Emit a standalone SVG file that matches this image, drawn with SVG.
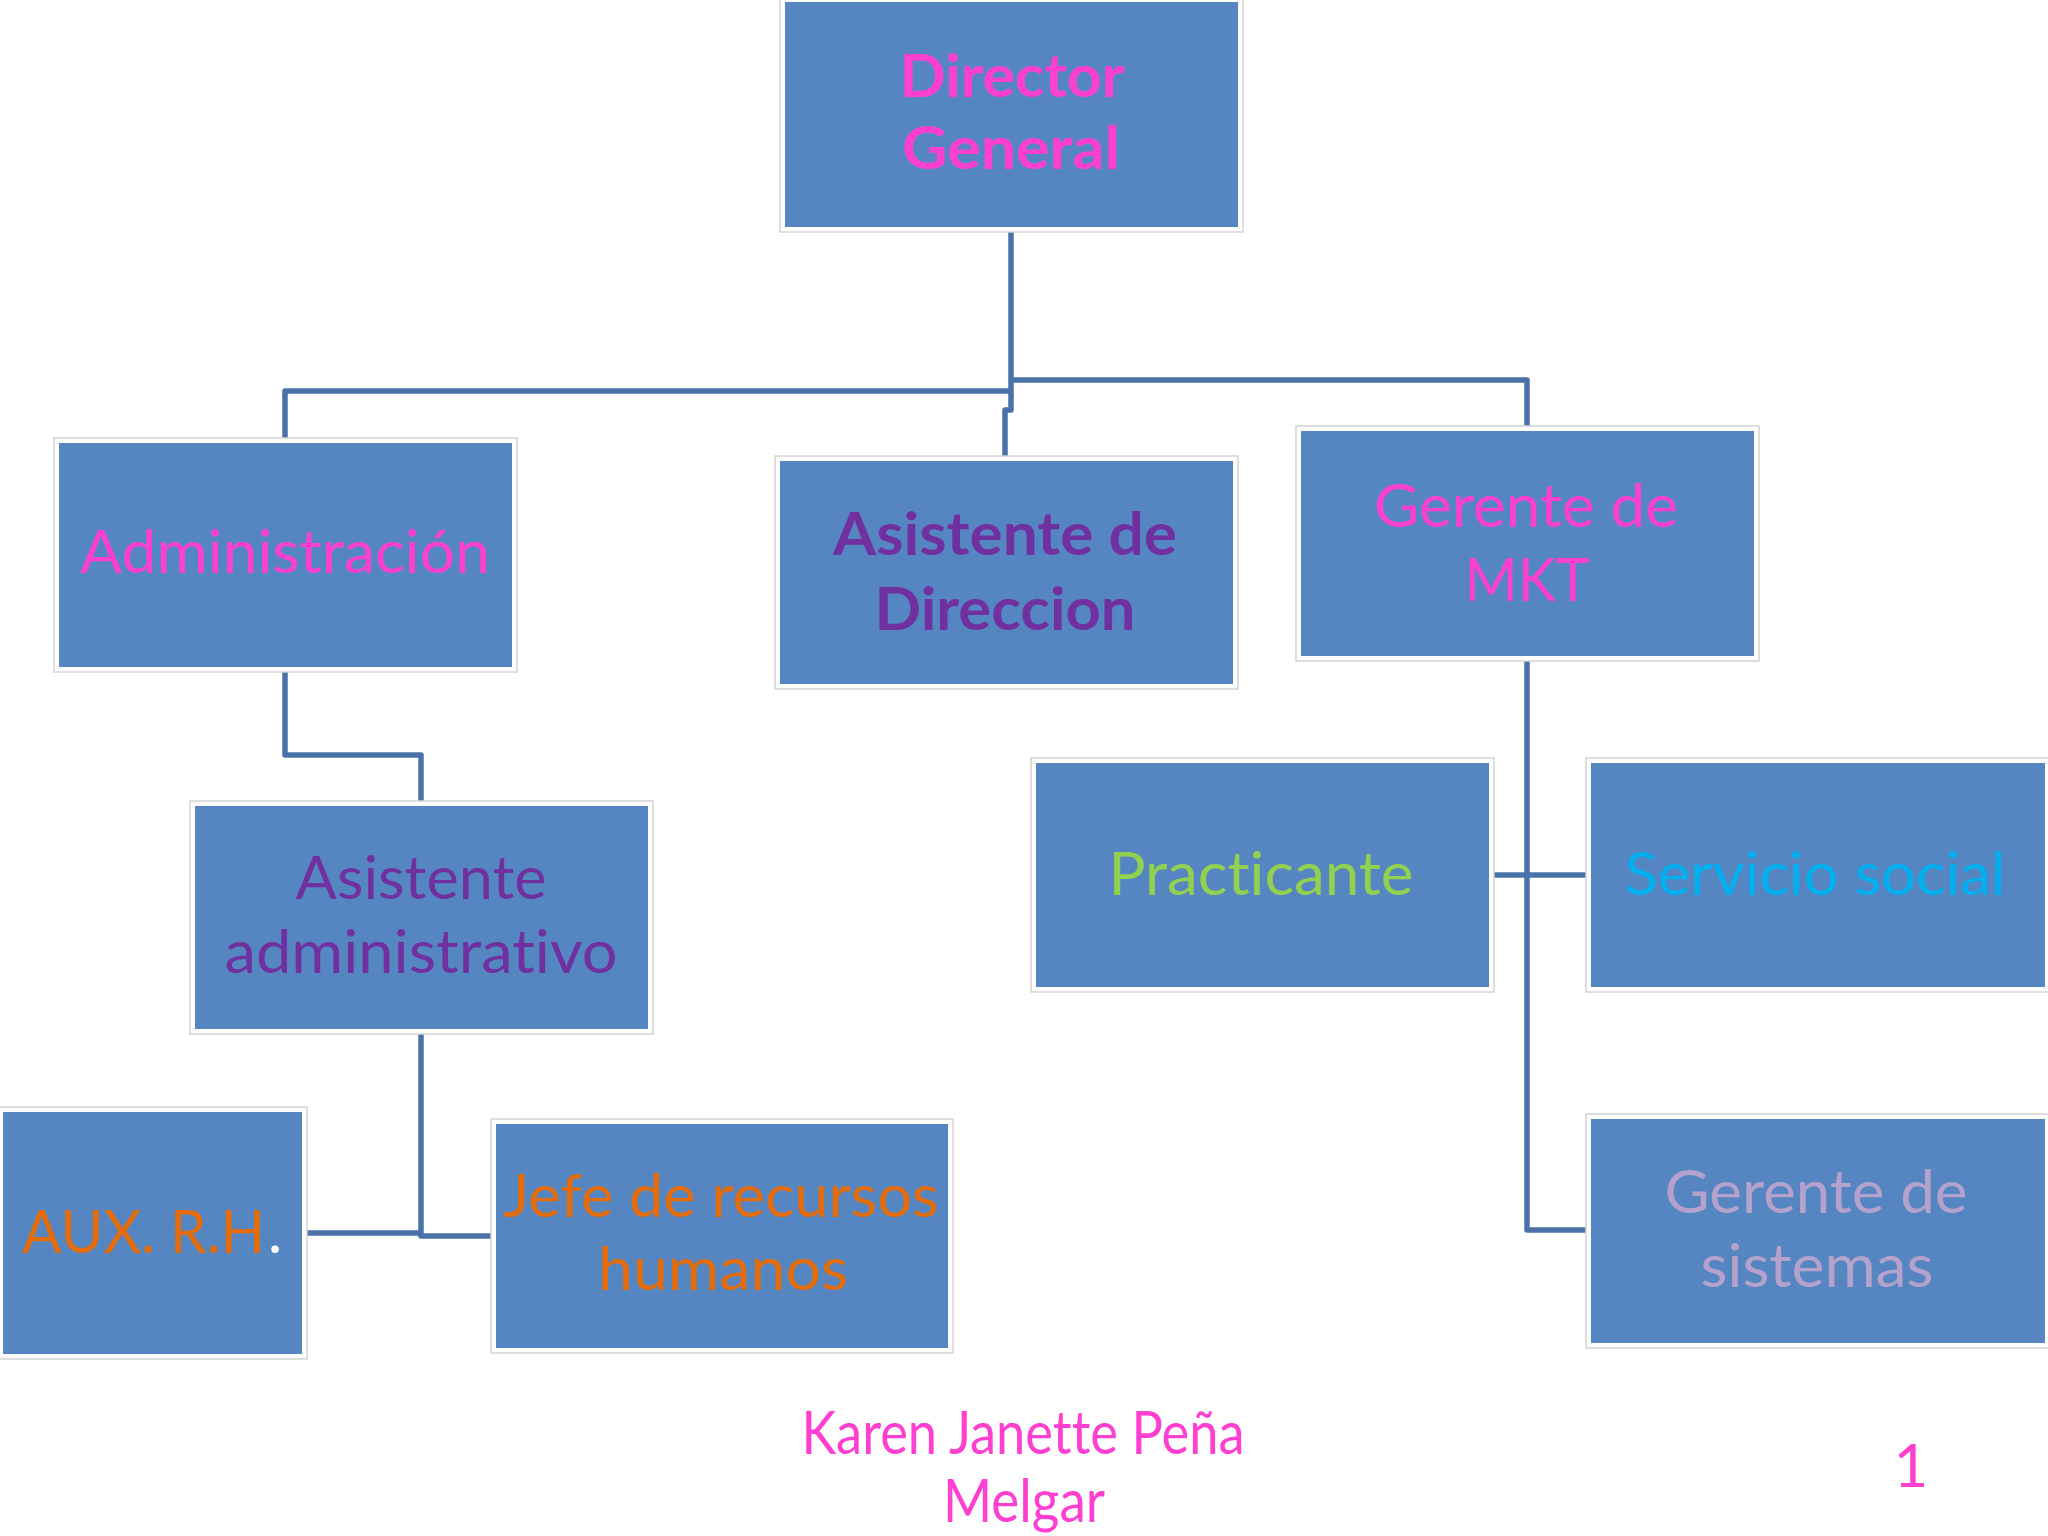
<svg xmlns="http://www.w3.org/2000/svg" width="2048" height="1536" viewBox="0 0 2048 1536">
<style>
.frame{fill:#ffffff;stroke:#d4d4d4;stroke-width:1.5}
.box{fill:#5686c1}
.conn{fill:none;stroke:#4a72a8;stroke-width:5.5;stroke-linejoin:round}
text{font-family:Lato,"Open Sans","Liberation Sans",sans-serif;text-anchor:middle;font-size:60px;font-variant-ligatures:none;font-feature-settings:"liga" 0,"clig" 0}
.b{font-weight:bold}
.pink{fill:#ff3fd0}
.purple{fill:#7030a0}
.green{fill:#92d050}
.cyan{fill:#00b0f0}
.orange{fill:#e46c0a}
.lav{fill:#b4a2cc}
</style>
<rect width="2048" height="1536" fill="#ffffff"/>
<g id="connectors">
<path class="conn" d="M1011 232 V410 H1005 V456"/>
<path class="conn" d="M1011 391 H285 V438"/>
<path class="conn" d="M1011 380 H1527 V426"/>
<path class="conn" d="M285 672 V755 H421 V801"/>
<path class="conn" d="M421 1034 V1236 H491"/>
<path class="conn" d="M307 1233 H421"/>
<path class="conn" d="M1527 661 V1230 H1586"/>
<path class="conn" d="M1494 875 H1586"/>
</g>
<g id="director">
<rect class="frame" x="780" y="-3" width="463" height="235"/>
<rect class="box" x="785" y="2" width="453" height="225"/>
<text class="b pink" x="1012" y="97" font-size="62" textLength="225" lengthAdjust="spacingAndGlyphs">Director</text>
<text class="b pink" x="1011" y="169" font-size="62" textLength="218" lengthAdjust="spacingAndGlyphs">General</text>
</g>
<g id="administracion">
<rect class="frame" x="54" y="438" width="463" height="234"/>
<rect class="box" x="59" y="443" width="453" height="224"/>
<text class="pink" x="285" y="573" font-size="62" textLength="410" lengthAdjust="spacingAndGlyphs">Administración</text>
</g>
<g id="asistente-direccion">
<rect class="frame" x="775" y="456" width="463" height="233"/>
<rect class="box" x="780" y="461" width="453" height="223"/>
<text class="b purple" x="1005" y="555" textLength="344" lengthAdjust="spacingAndGlyphs">Asistente de</text>
<text class="b purple" x="1005" y="630" textLength="261" lengthAdjust="spacingAndGlyphs">Direccion</text>
</g>
<g id="gerente-mkt">
<rect class="frame" x="1296" y="426" width="463" height="235"/>
<rect class="box" x="1301" y="431" width="453" height="225"/>
<text class="pink" x="1526" y="527" textLength="304" lengthAdjust="spacingAndGlyphs">Gerente de</text>
<text class="pink" x="1527" y="601" textLength="125" lengthAdjust="spacingAndGlyphs">MKT</text>
</g>
<g id="asistente-administrativo">
<rect class="frame" x="190" y="801" width="463" height="233"/>
<rect class="box" x="195" y="806" width="453" height="223"/>
<text class="purple" x="421" y="899" textLength="251" lengthAdjust="spacingAndGlyphs">Asistente</text>
<text class="purple" x="421" y="973" textLength="393" lengthAdjust="spacingAndGlyphs">administrativo</text>
</g>
<g id="practicante">
<rect class="frame" x="1031" y="758" width="463" height="234"/>
<rect class="box" x="1036" y="763" width="453" height="224"/>
<text class="green" x="1261" y="895" textLength="305" lengthAdjust="spacingAndGlyphs">Practicante</text>
</g>
<g id="servicio-social">
<rect class="frame" x="1586" y="758" width="464" height="234"/>
<rect class="box" x="1591" y="763" width="454" height="224"/>
<text class="cyan" x="1815" y="895" textLength="381" lengthAdjust="spacingAndGlyphs">Servicio social</text>
</g>
<g id="aux-rh">
<rect class="frame" x="-2" y="1107" width="309" height="252"/>
<rect class="box" x="3" y="1112" width="299" height="242"/>
<text class="orange" x="22" y="1253" style="text-anchor:start" textLength="243" lengthAdjust="spacingAndGlyphs">AUX. R.H</text>
<text x="268" y="1253" style="text-anchor:start" fill="#ffffff">.</text>
</g>
<g id="jefe-rh">
<rect class="frame" x="491" y="1119" width="462" height="234"/>
<rect class="box" x="496" y="1124" width="452" height="224"/>
<text class="orange" x="721" y="1217" textLength="435" lengthAdjust="spacingAndGlyphs">Jefe de recursos</text>
<text class="orange" x="723" y="1290" textLength="250" lengthAdjust="spacingAndGlyphs">humanos</text>
</g>
<g id="gerente-sistemas">
<rect class="frame" x="1586" y="1114" width="464" height="234"/>
<rect class="box" x="1591" y="1119" width="454" height="224"/>
<text class="lav" x="1816" y="1213" textLength="303" lengthAdjust="spacingAndGlyphs">Gerente de</text>
<text class="lav" x="1817" y="1287" textLength="233" lengthAdjust="spacingAndGlyphs">sistemas</text>
</g>
<g id="footer">
<text class="pink" x="1023" y="1454" font-size="54" textLength="443" lengthAdjust="spacingAndGlyphs">Karen Janette Peña</text>
<text class="pink" x="1024" y="1522" font-size="54" textLength="162" lengthAdjust="spacingAndGlyphs">Melgar</text>
<text class="pink" x="1911" y="1487" font-size="50">1</text>
</g>
</svg>
